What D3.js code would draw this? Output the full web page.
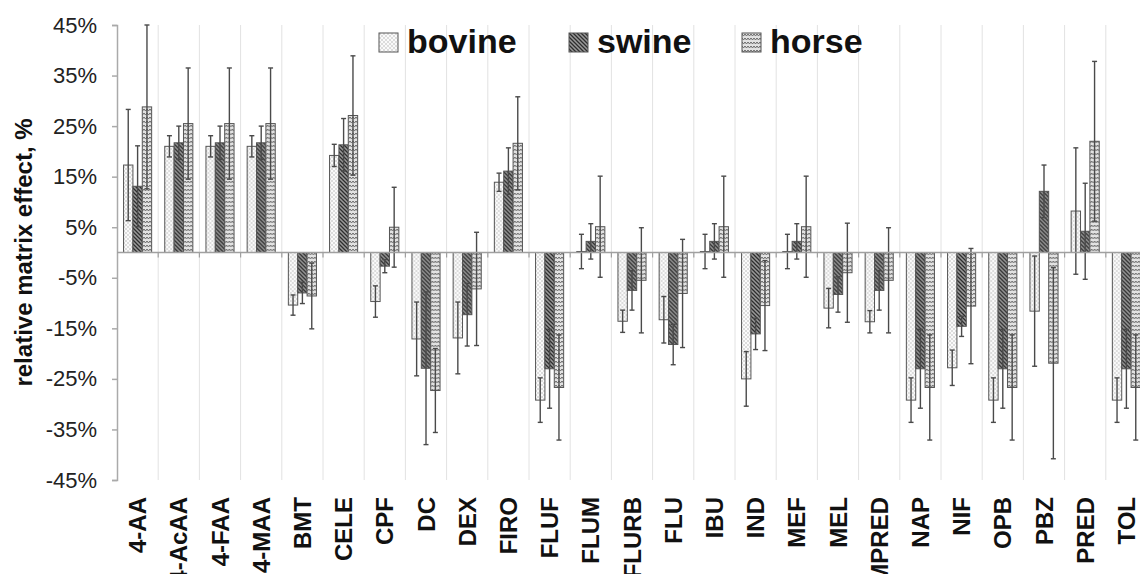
<!DOCTYPE html>
<html>
<head>
<meta charset="utf-8">
<script src="https://cdn.jsdelivr.net/npm/d3@7"></script>
<style>
  body { margin: 0; background: #fff; }
  svg { display: block; font-family: "Liberation Sans", Arial, sans-serif; }
</style>
</head>
<body>
<div id="chart"></div>
<script>
// data (percent)
var categories = ["4-AA", "4-AcAA", "4-FAA", "4-MAA", "BMT", "CELE", "CPF", "DC", "DEX", "FIRO",
  "FLUF", "FLUM", "FLURB", "FLU", "IBU", "IND", "MEF", "MEL", "MPRED", "NAP", "NIF", "OPB",
  "PBZ", "PRED", "TOL"];
var seriesNames = ["bovine", "swine", "horse"];
var bovine = [17.3, 21.0, 21.0, 21.0, -10.4, 19.2, -9.7, -17.1, -16.9, 13.9, -29.2, 0.2, -13.6,
  -13.3, 0.2, -25.0, 0.2, -11.0, -13.7, -29.2, -22.8, -29.2, -11.6, 8.2, -29.2];
var bovineErr = [11, 2.1, 2.1, 2.1, 2.0, 2.2, 3.1, 7.3, 7.1, 1.8, 4.4, 3.4, 2.2, 4.6, 3.4, 5.4,
  3.4, 3.9, 2.2, 4.4, 3.5, 4.4, 10.9, 12.5, 4.4];
var swine = [13.1, 21.7, 21.7, 21.7, -8.0, 21.3, -2.7, -22.9, -12.3, 16.1, -23.0, 2.2, -7.5,
  -18.2, 2.2, -16.1, 2.2, -8.3, -7.5, -23.0, -14.6, -23.0, 12.1, 4.2, -23.0];
var swineErr = [8, 3.3, 3.3, 3.3, 2.1, 5.2, 1.3, 15.1, 6.2, 4.6, 7.8, 3.5, 3.9, 4.0, 3.5, 3.1,
  3.5, 3.5, 3.9, 7.8, 2.0, 7.8, 5.2, 9.5, 7.8];
var horse = [28.8, 25.5, 25.5, 25.5, -8.6, 27.1, 5.0, -27.3, -7.2, 21.6, -26.7, 5.1, -5.5, -8.1,
  5.1, -10.5, 5.1, -4.0, -5.5, -26.7, -10.6, -26.7, -21.9, 22.0, -26.7];
var horseErr = [16.2, 11, 11, 11, 6.5, 11.8, 7.9, 8.3, 11.2, 9.2, 10.4, 10, 10.4, 10.7, 10, 8.9,
  10, 9.8, 10.4, 10.4, 11.4, 10.4, 18.9, 15.8, 10.4];
var yTicks = [45, 35, 25, 15, 5, -5, -15, -25, -35, -45];

var svgWidth = 1140;
var svgHeight = 574;
var margin = { top: 25, left: 117, bottom: 94 };
var plotRight = 1147;

var svg = d3.select("#chart")
  .append("svg")
  .attr("width", svgWidth)
  .attr("height", svgHeight);

// fill patterns for the three series
var defs = svg.append("defs");
var pb = defs.append("pattern").attr("id", "p-bovine")
  .attr("patternUnits", "userSpaceOnUse").attr("width", 4).attr("height", 4);
pb.append("rect").attr("width", 4).attr("height", 4).attr("fill", "#fafafa");
pb.append("circle").attr("cx", 1).attr("cy", 1).attr("r", 0.7).attr("fill", "#a8a8a8");
pb.append("circle").attr("cx", 3).attr("cy", 3).attr("r", 0.7).attr("fill", "#a8a8a8");

var ps = defs.append("pattern").attr("id", "p-swine")
  .attr("patternUnits", "userSpaceOnUse").attr("width", 4).attr("height", 4);
ps.append("rect").attr("width", 4).attr("height", 4).attr("fill", "#9a9a9a");
ps.append("path").attr("d", "M0,0L4,4M-1,3L1,5M3,-1L5,1")
  .attr("stroke", "#2e2e2e").attr("stroke-width", 1.3);

var ph = defs.append("pattern").attr("id", "p-horse")
  .attr("patternUnits", "userSpaceOnUse").attr("width", 6).attr("height", 4);
ph.append("rect").attr("width", 6).attr("height", 4).attr("fill", "#e2e2e2");
ph.append("path").attr("d", "M0,1L1.5,3L3,1L4.5,3L6,1")
  .attr("fill", "none").attr("stroke", "#6a6a6a").attr("stroke-width", 1);

var fills = { bovine: "url(#p-bovine)", swine: "url(#p-swine)", horse: "url(#p-horse)" };

// scales
var x0 = d3.scaleBand()
  .domain(categories)
  .range([margin.left, plotRight])
  .padding(0);

var x1 = d3.scaleBand()
  .domain(seriesNames)
  .range([0, x0.bandwidth()])
  .paddingInner(0)
  .paddingOuter(0.7);

var y = d3.scaleLinear()
  .domain([-45, 45])
  .range([svgHeight - margin.bottom, margin.top]);

// vertical gridlines at category boundaries
var bounds = categories.map(function(c) { return x0(c); }).concat([x0.range()[1]]);
svg.append("g")
  .selectAll("line")
  .data(bounds.slice(1))
  .enter()
  .append("line")
  .attr("x1", d => d).attr("x2", d => d)
  .attr("y1", y(45)).attr("y2", y(-45))
  .attr("stroke", "#e2e2e2")
  .attr("stroke-width", 1);

// y axis
var leftAxis = d3.axisLeft(y)
  .tickValues(yTicks)
  .tickSize(5)
  .tickPadding(15)
  .tickFormat(d => d + "%");

var yAxisG = svg.append("g")
  .attr("transform", `translate(${margin.left}, 0)`)
  .call(leftAxis);
yAxisG.select(".domain").attr("stroke", "#aaa").attr("stroke-width", 1.5);
yAxisG.selectAll(".tick line").attr("stroke", "#aaa").attr("stroke-width", 1.5);
yAxisG.selectAll(".tick text")
  .attr("fill", "#222")
  .style("font-size", "22px")
  .style("font-family", "'Liberation Sans', Arial, sans-serif");

// rows of data
var rows = categories.map(function(c, i) {
  return {
    cat: c,
    vals: [
      { key: "bovine", v: bovine[i], e: bovineErr[i] },
      { key: "swine", v: swine[i], e: swineErr[i] },
      { key: "horse", v: horse[i], e: horseErr[i] }
    ]
  };
});

var groups = svg.append("g")
  .selectAll("g")
  .data(rows)
  .enter()
  .append("g")
  .attr("transform", d => `translate(${x0(d.cat)}, 0)`);

groups.selectAll("rect")
  .data(d => d.vals)
  .enter()
  .append("rect")
  .attr("x", d => x1(d.key))
  .attr("width", x1.bandwidth())
  .attr("y", d => y(Math.max(0, d.v)))
  .attr("height", d => Math.abs(y(d.v) - y(0)))
  .attr("fill", d => fills[d.key])
  .attr("stroke", "#555")
  .attr("stroke-width", 1);

// zero line with small boundary ticks
svg.append("line")
  .attr("x1", margin.left).attr("x2", plotRight)
  .attr("y1", y(0)).attr("y2", y(0))
  .attr("stroke", "#a0a0a0").attr("stroke-width", 1.5);
svg.append("g")
  .selectAll("line")
  .data(bounds.slice(1))
  .enter()
  .append("line")
  .attr("x1", d => d).attr("x2", d => d)
  .attr("y1", y(0)).attr("y2", y(0) + 5)
  .attr("stroke", "#a0a0a0").attr("stroke-width", 1.2);

// error bars
var errG = groups.selectAll("g.err")
  .data(d => d.vals)
  .enter()
  .append("g")
  .attr("class", "err")
  .attr("stroke", "#4a4a4a")
  .attr("stroke-width", 1.4);

errG.append("line")
  .attr("x1", d => x1(d.key) + x1.bandwidth() / 2)
  .attr("x2", d => x1(d.key) + x1.bandwidth() / 2)
  .attr("y1", d => y(d.v + d.e))
  .attr("y2", d => y(d.v - d.e));
errG.append("line")
  .attr("x1", d => x1(d.key) + x1.bandwidth() / 2 - 2.5)
  .attr("x2", d => x1(d.key) + x1.bandwidth() / 2 + 2.5)
  .attr("y1", d => y(d.v + d.e))
  .attr("y2", d => y(d.v + d.e));
errG.append("line")
  .attr("x1", d => x1(d.key) + x1.bandwidth() / 2 - 2.5)
  .attr("x2", d => x1(d.key) + x1.bandwidth() / 2 + 2.5)
  .attr("y1", d => y(d.v - d.e))
  .attr("y2", d => y(d.v - d.e));

// category labels, rotated
svg.append("g")
  .selectAll("text")
  .data(categories)
  .enter()
  .append("text")
  .attr("transform", d => `translate(${x0(d) + x0.bandwidth() / 2 + 8.5}, ${y(-45) + 17}) rotate(-90)`)
  .attr("text-anchor", "end")
  .style("font-size", "24px")
  .style("font-weight", "bold")
  .attr("fill", "#111")
  .text(d => d);

// y axis title
svg.append("text")
  .attr("transform", `translate(32, ${(y(45) + y(-45)) / 2}) rotate(-90)`)
  .attr("text-anchor", "middle")
  .style("font-size", "24px")
  .style("font-weight", "bold")
  .attr("fill", "#111")
  .text("relative matrix effect, %");

// legend
var legendX = [379, 569, 742];
var legend = svg.append("g")
  .selectAll("g")
  .data(seriesNames)
  .enter()
  .append("g")
  .attr("transform", (d, i) => `translate(${legendX[i]}, 33)`);
legend.append("rect")
  .attr("width", 19).attr("height", 19)
  .attr("fill", d => fills[d])
  .attr("stroke", "#555").attr("stroke-width", 1);
legend.append("text")
  .attr("x", 28).attr("y", 20)
  .style("font-size", "34px")
  .style("font-weight", "bold")
  .attr("fill", "#111")
  .text(d => d);
</script>
</body>
</html>
